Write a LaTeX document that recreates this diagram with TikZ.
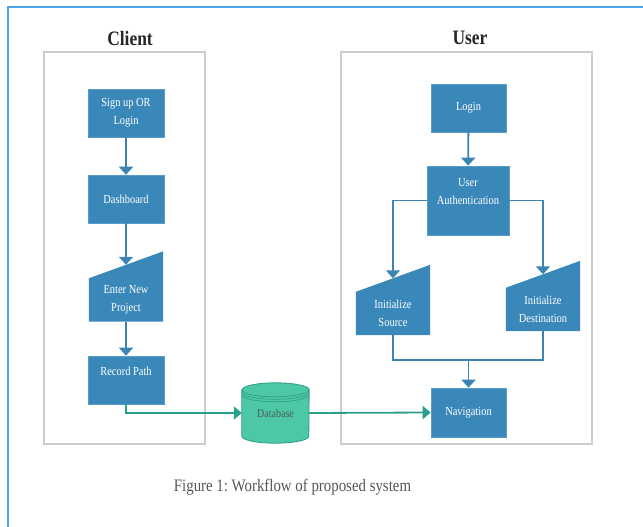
\documentclass[tikz,border=0pt]{standalone}
\usepackage{fontspec}
\setmainfont[FakeStretch=0.85]{Liberation Serif}
\usetikzlibrary{arrows.meta,calc,backgrounds}
\definecolor{boxblue}{HTML}{3A88B9}
\definecolor{boxedge}{HTML}{5A9CC8}
\definecolor{flowblue}{HTML}{3B84B3}
\definecolor{dbfill}{HTML}{4CC8A6}
\definecolor{dbedge}{HTML}{2E9C83}
\definecolor{dbline}{HTML}{2A9F8A}
\definecolor{dbtext}{HTML}{4A5C56}
\definecolor{panelgray}{HTML}{CDCDCD}
\definecolor{frameblue}{HTML}{4EA3E6}
\definecolor{captiongray}{HTML}{555555}

\begin{document}
\frenchspacing
\begin{tikzpicture}[x=1pt,y=-1pt,
  boxfont/.style={font=\fontsize{12.3}{18}\selectfont},
  box/.style={boxfont, fill=boxblue, draw=boxedge, line width=0.6pt, text=white,
    align=center, inner sep=0pt, minimum width=76pt, minimum height=48pt},
  slantbox/.style={boxfont, text=white, align=center, inner sep=0pt,
    minimum width=74pt, minimum height=43pt},
  boxtext/.style={boxfont, text=white, align=center, inner sep=0pt},
  panel/.style={draw=panelgray, line width=1.4pt, inner sep=0pt},
  heading/.style={font=\bfseries\fontsize{20.5}{23}\selectfont, text=black!85},
  flowline/.style={draw=flowblue, line width=1.8pt},
  flow/.style={flowline, -{Triangle[width=14pt,length=8pt]}},
  dbflow/.style={draw=dbline, line width=1.8pt, -{Triangle[width=13pt,length=8pt]}},
  dbnode/.style={font=\fontsize{11.8}{14}\selectfont, text=dbtext, inner sep=0pt,
    minimum width=67pt, minimum height=60pt},
]
\useasboundingbox (0,0) rectangle (643,527);

% outer frame
\draw[frameblue, line width=1.8pt] (8,527) -- (8,7) -- (643,7);

% swimlanes
\node[heading] (clienthead) at (130,38) {Client};
\node[heading] (userhead) at (470,38) {User};
\node[panel, minimum width=161pt, minimum height=392pt] (clientlane) at (124.5,248) {};
\node[panel, minimum width=251pt, minimum height=392pt] (userlane) at (466.5,248) {};

% client flow
\node[box] (sign) at (126,113) {Sign up OR\\Login};
\node[box] (dash) at (126,199) {Dashboard};
\node[slantbox] (enp) at (126,300) {Enter New\\Project};
\node[box, label={[boxtext, yshift=9pt]center:{Record Path}}] (rec) at (126,380) {};

% database
\node[dbnode] (db) at (275.5,413) {Database};

% user flow
\node[box, minimum width=75pt] (login) at (468.5,108) {Login};
\node[box, minimum width=82pt, minimum height=69pt,
  label={[boxtext, yshift=8.5pt]center:{User\\Authentication}}] (auth) at (468,200.5) {};
\node[slantbox] (src) at (393,313.5) {Initialize\\Source};
\node[slantbox] (dst) at (543,309.5) {Initialize\\Destination};
\node[box, minimum width=75pt, minimum height=49pt] (nav) at (468.5,412.5) {Navigation};

% manual-input shapes and the database cylinder
\begin{scope}[on background layer]
  \foreach \n in {enp,src,dst}
    \fill[boxblue] (\n.south west) -- (\n.south east) -- ($(\n.north east)+(0,-27)$)
      -- (\n.north west) -- cycle;
  \filldraw[fill=dbfill, draw=dbedge, line width=0.8pt]
    ($(db.north west)+(0,7)$) -- ($(db.south west)+(0,-7)$)
    arc[start angle=180, end angle=0, x radius=33.5, y radius=7]
    -- ($(db.north east)+(0,7)$)
    arc[start angle=0, end angle=-180, x radius=33.5, y radius=7] -- cycle;
  \foreach \d in {0,2.5,5}
    \draw[dbedge, line width=0.6pt] ($(db.north west)+(0,7+\d)$)
      arc[start angle=180, end angle=0, x radius=33.5, y radius=7];
\end{scope}

% connectors
\draw[flow] (sign) -- (dash);
\draw[flow] (dash) -- ($(enp.north)+(0,-13.5)$);
\draw[flow] (enp) -- (rec);
\draw[dbflow] (rec.south) |- (db.west);
\draw[dbflow] (db.east) -- (nav.west);

\draw[flow] (login) -- (auth);
\draw[flow] (auth.west) -| ($(src.north)+(0,-13.5)$);
\draw[flow] (auth.east) -| ($(dst.north)+(0,-13.5)$);
\coordinate (merge) at ($(nav.north)+(0,-28)$);
\draw[flowline] (src.south) |- (merge) -| (dst.south);
\draw[flow] (merge) -- (nav);

% caption
\node[font=\fontsize{17.5}{20}\selectfont, text=captiongray] (caption) at (292.5,487)
  {Figure 1: Workflow of proposed system};
\end{tikzpicture}
\end{document}
